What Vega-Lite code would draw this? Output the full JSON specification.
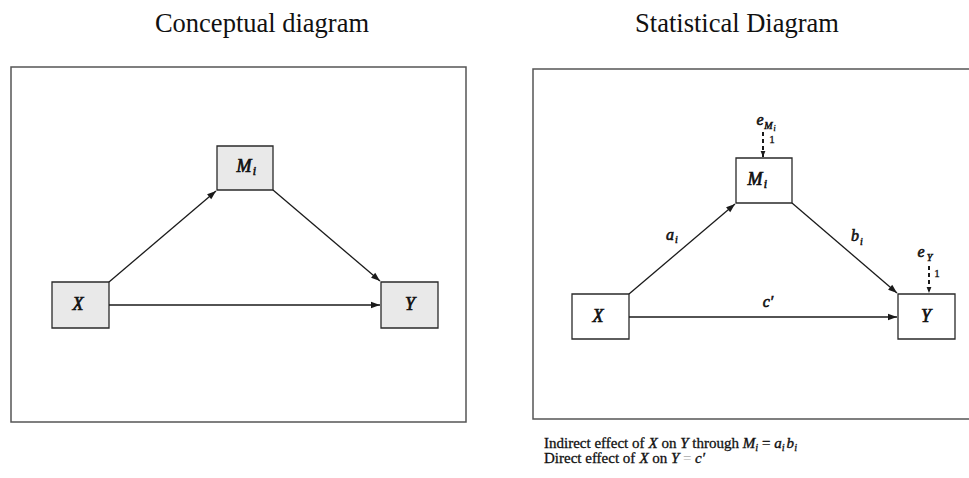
{
  "$schema": "https://vega.github.io/schema/vega-lite/v6.json",
  "width": 969,
  "height": 478,
  "autosize": {"type": "fit", "contains": "padding"},
  "padding": 0,
  "background": "white",
  "config": {"view": {"stroke": null}},
  "datasets": {
    "frames": [
      {"x1": 11, "x2": 466, "y1": 67, "y2": 422},
      {"x1": 533, "x2": 990, "y1": 69, "y2": 419}
    ],
    "boxes": [
      {"x1": 217, "x2": 273, "y1": 146, "y2": 190, "panel": "conceptual"},
      {"x1": 52, "x2": 109, "y1": 282, "y2": 328, "panel": "conceptual"},
      {"x1": 381, "x2": 438, "y1": 282, "y2": 328, "panel": "conceptual"},
      {"x1": 736, "x2": 792, "y1": 158, "y2": 203, "panel": "statistical"},
      {"x1": 572, "x2": 629, "y1": 294, "y2": 339, "panel": "statistical"},
      {"x1": 898, "x2": 955, "y1": 294, "y2": 339, "panel": "statistical"}
    ],
    "arrows": [
      {"x1": 109, "y1": 282, "x2": 216, "y2": 191, "dir": "ne", "line": "solid"},
      {"x1": 273, "y1": 190, "x2": 380, "y2": 281, "dir": "se", "line": "solid"},
      {"x1": 109, "y1": 305, "x2": 380, "y2": 305, "dir": "e", "line": "solid"},
      {"x1": 629, "y1": 294, "x2": 735, "y2": 204, "dir": "ne", "line": "solid"},
      {"x1": 792, "y1": 203, "x2": 897, "y2": 293, "dir": "se", "line": "solid"},
      {"x1": 629, "y1": 317, "x2": 897, "y2": 317, "dir": "e", "line": "solid"},
      {"x1": 763, "y1": 132, "x2": 763, "y2": 157, "dir": "s", "line": "dashed"},
      {"x1": 929, "y1": 266, "x2": 929, "y2": 293, "dir": "s", "line": "dashed"}
    ],
    "texts": [
      {"x": 262, "y": 24, "t": "Conceptual diagram", "s": "title"},
      {"x": 737, "y": 24, "t": "Statistical Diagram", "s": "title"},
      {"x": 78, "y": 305, "t": "X", "s": "var"},
      {"x": 410, "y": 305, "t": "Y", "s": "var"},
      {"x": 244, "y": 167, "t": "M", "s": "var"},
      {"x": 254.5, "y": 171, "t": "i", "s": "varsub"},
      {"x": 598, "y": 317, "t": "X", "s": "var"},
      {"x": 926, "y": 317, "t": "Y", "s": "var"},
      {"x": 755, "y": 180, "t": "M", "s": "var"},
      {"x": 765.5, "y": 184, "t": "i", "s": "varsub"},
      {"x": 670, "y": 235, "t": "a", "s": "lab"},
      {"x": 676.5, "y": 240, "t": "i", "s": "labsub"},
      {"x": 855, "y": 236, "t": "b", "s": "lab"},
      {"x": 861.5, "y": 242, "t": "i", "s": "labsub"},
      {"x": 768, "y": 302, "t": "c′", "s": "lab"},
      {"x": 760, "y": 120, "t": "e", "s": "lab"},
      {"x": 768.5, "y": 126, "t": "M", "s": "labsub"},
      {"x": 774.5, "y": 129, "t": "i", "s": "tiny"},
      {"x": 921, "y": 252, "t": "e", "s": "lab"},
      {"x": 929.5, "y": 258, "t": "Y", "s": "labsub"},
      {"x": 772, "y": 140, "t": "1", "s": "one"},
      {"x": 937, "y": 274, "t": "1", "s": "one"},
      {"x": 544, "y": 448, "t": "Indirect effect of", "s": "nr"},
      {"x": 648.5, "y": 448, "t": "X", "s": "ni"},
      {"x": 661.4, "y": 448, "t": "on", "s": "nr"},
      {"x": 680.2, "y": 448, "t": "Y", "s": "ni"},
      {"x": 692.3, "y": 448, "t": "through", "s": "nr"},
      {"x": 742.7, "y": 448, "t": "M", "s": "ni"},
      {"x": 755.3, "y": 451, "t": "i", "s": "ns"},
      {"x": 762, "y": 448, "t": "=", "s": "nr"},
      {"x": 774.2, "y": 448, "t": "a", "s": "ni"},
      {"x": 781.8, "y": 451, "t": "i", "s": "ns"},
      {"x": 786.5, "y": 448, "t": "b", "s": "ni"},
      {"x": 794.2, "y": 451, "t": "i", "s": "ns"},
      {"x": 544, "y": 463, "t": "Direct effect of", "s": "nr"},
      {"x": 639.4, "y": 463, "t": "X", "s": "ni"},
      {"x": 652.3, "y": 463, "t": "on", "s": "nr"},
      {"x": 671, "y": 463, "t": "Y", "s": "ni"},
      {"x": 683, "y": 463, "t": "=", "s": "ng"},
      {"x": 695, "y": 463, "t": "c′", "s": "ni"}
    ]
  },
  "layer": [
    {
      "data": {"name": "frames"},
      "mark": {"type": "rect", "fill": null, "stroke": "#555555", "strokeWidth": 1.5, "clip": true},
      "encoding": {
        "x": {"field": "x1", "type": "quantitative", "scale": {"domain": [0, 969], "nice": false, "zero": false}, "axis": null},
        "x2": {"field": "x2"},
        "y": {"field": "y1", "type": "quantitative", "scale": {"domain": [0, 478], "nice": false, "zero": false, "reverse": true}, "axis": null},
        "y2": {"field": "y2"}
      }
    },
    {
      "data": {"name": "boxes"},
      "mark": {"type": "rect", "stroke": "#2a2a2a", "strokeWidth": 1.3},
      "encoding": {
        "x": {"field": "x1", "type": "quantitative", "axis": null},
        "x2": {"field": "x2"},
        "y": {"field": "y1", "type": "quantitative", "axis": null},
        "y2": {"field": "y2"},
        "fill": {"field": "panel", "type": "nominal", "scale": {"domain": ["conceptual", "statistical"], "range": ["#e9e9e9", "#ffffff"]}, "legend": null}
      }
    },
    {
      "data": {"name": "arrows"},
      "transform": [{"filter": "datum.line === 'solid'"}],
      "mark": {"type": "rule", "stroke": "#1a1a1a", "strokeWidth": 1.3},
      "encoding": {
        "x": {"field": "x1", "type": "quantitative", "axis": null},
        "x2": {"field": "x2"},
        "y": {"field": "y1", "type": "quantitative", "axis": null},
        "y2": {"field": "y2"}
      }
    },
    {
      "data": {"name": "arrows"},
      "transform": [{"filter": "datum.line === 'dashed'"}],
      "mark": {"type": "rule", "stroke": "#1a1a1a", "strokeWidth": 2, "strokeDash": [4, 3]},
      "encoding": {
        "x": {"field": "x1", "type": "quantitative", "axis": null},
        "x2": {"field": "x2"},
        "y": {"field": "y1", "type": "quantitative", "axis": null},
        "y2": {"field": "y2"}
      }
    },
    {
      "data": {"name": "arrows"},
      "transform": [{"filter": "datum.dir === 'ne'"}],
      "mark": {"type": "point", "shape": "M0,0L-0.36,1L0.36,1Z", "filled": true, "color": "#1a1a1a", "opacity": 1, "size": 324, "angle": 49.6},
      "encoding": {
        "x": {"field": "x2", "type": "quantitative", "axis": null},
        "y": {"field": "y2", "type": "quantitative", "axis": null}
      }
    },
    {
      "data": {"name": "arrows"},
      "transform": [{"filter": "datum.dir === 'se'"}],
      "mark": {"type": "point", "shape": "M0,0L-0.36,1L0.36,1Z", "filled": true, "color": "#1a1a1a", "opacity": 1, "size": 324, "angle": 130.4},
      "encoding": {
        "x": {"field": "x2", "type": "quantitative", "axis": null},
        "y": {"field": "y2", "type": "quantitative", "axis": null}
      }
    },
    {
      "data": {"name": "arrows"},
      "transform": [{"filter": "datum.dir === 'e'"}],
      "mark": {"type": "point", "shape": "M0,0L-0.36,1L0.36,1Z", "filled": true, "color": "#1a1a1a", "opacity": 1, "size": 324, "angle": 90},
      "encoding": {
        "x": {"field": "x2", "type": "quantitative", "axis": null},
        "y": {"field": "y2", "type": "quantitative", "axis": null}
      }
    },
    {
      "data": {"name": "arrows"},
      "transform": [{"filter": "datum.dir === 's'"}],
      "mark": {"type": "point", "shape": "M0,0L-0.4,1L0.4,1Z", "filled": true, "color": "#1a1a1a", "opacity": 1, "size": 144, "angle": 180},
      "encoding": {
        "x": {"field": "x2", "type": "quantitative", "axis": null},
        "y": {"field": "y2", "type": "quantitative", "axis": null}
      }
    },
    {
      "data": {"name": "texts"},
      "transform": [{"filter": "datum.s === 'title'"}],
      "mark": {"type": "text", "font": "Liberation Serif", "fontSize": 26.5, "color": "#111111", "align": "center", "baseline": "middle"},
      "encoding": {
        "x": {"field": "x", "type": "quantitative", "axis": null},
        "y": {"field": "y", "type": "quantitative", "axis": null},
        "text": {"field": "t"}
      }
    },
    {
      "data": {"name": "texts"},
      "transform": [{"filter": "datum.s === 'var'"}],
      "mark": {"type": "text", "font": "Liberation Serif", "fontSize": 18, "fontStyle": "italic", "color": "#111111", "stroke": "#111111", "strokeWidth": 0.7, "align": "center", "baseline": "middle"},
      "encoding": {
        "x": {"field": "x", "type": "quantitative", "axis": null},
        "y": {"field": "y", "type": "quantitative", "axis": null},
        "text": {"field": "t"}
      }
    },
    {
      "data": {"name": "texts"},
      "transform": [{"filter": "datum.s === 'varsub'"}],
      "mark": {"type": "text", "font": "Liberation Serif", "fontSize": 12, "fontStyle": "italic", "color": "#111111", "stroke": "#111111", "strokeWidth": 0.6, "align": "center", "baseline": "middle"},
      "encoding": {
        "x": {"field": "x", "type": "quantitative", "axis": null},
        "y": {"field": "y", "type": "quantitative", "axis": null},
        "text": {"field": "t"}
      }
    },
    {
      "data": {"name": "texts"},
      "transform": [{"filter": "datum.s === 'lab'"}],
      "mark": {"type": "text", "font": "Liberation Serif", "fontSize": 16, "fontStyle": "italic", "color": "#111111", "stroke": "#111111", "strokeWidth": 0.6, "align": "center", "baseline": "middle"},
      "encoding": {
        "x": {"field": "x", "type": "quantitative", "axis": null},
        "y": {"field": "y", "type": "quantitative", "axis": null},
        "text": {"field": "t"}
      }
    },
    {
      "data": {"name": "texts"},
      "transform": [{"filter": "datum.s === 'labsub'"}],
      "mark": {"type": "text", "font": "Liberation Serif", "fontSize": 10, "fontStyle": "italic", "color": "#111111", "stroke": "#111111", "strokeWidth": 0.5, "align": "center", "baseline": "middle"},
      "encoding": {
        "x": {"field": "x", "type": "quantitative", "axis": null},
        "y": {"field": "y", "type": "quantitative", "axis": null},
        "text": {"field": "t"}
      }
    },
    {
      "data": {"name": "texts"},
      "transform": [{"filter": "datum.s === 'tiny'"}],
      "mark": {"type": "text", "font": "Liberation Serif", "fontSize": 7.5, "fontStyle": "italic", "color": "#111111", "stroke": "#111111", "strokeWidth": 0.4, "align": "center", "baseline": "middle"},
      "encoding": {
        "x": {"field": "x", "type": "quantitative", "axis": null},
        "y": {"field": "y", "type": "quantitative", "axis": null},
        "text": {"field": "t"}
      }
    },
    {
      "data": {"name": "texts"},
      "transform": [{"filter": "datum.s === 'one'"}],
      "mark": {"type": "text", "font": "Liberation Serif", "fontSize": 11, "color": "#111111", "stroke": "#111111", "strokeWidth": 0.3, "align": "center", "baseline": "middle"},
      "encoding": {
        "x": {"field": "x", "type": "quantitative", "axis": null},
        "y": {"field": "y", "type": "quantitative", "axis": null},
        "text": {"field": "t"}
      }
    },
    {
      "data": {"name": "texts"},
      "transform": [{"filter": "datum.s === 'nr'"}],
      "mark": {"type": "text", "font": "Liberation Serif", "fontSize": 15, "color": "#111111", "stroke": "#111111", "strokeWidth": 0.3, "align": "left", "baseline": "alphabetic"},
      "encoding": {
        "x": {"field": "x", "type": "quantitative", "axis": null},
        "y": {"field": "y", "type": "quantitative", "axis": null},
        "text": {"field": "t"}
      }
    },
    {
      "data": {"name": "texts"},
      "transform": [{"filter": "datum.s === 'ng'"}],
      "mark": {"type": "text", "font": "Liberation Serif", "fontSize": 15, "color": "#aaaaaa", "align": "left", "baseline": "alphabetic"},
      "encoding": {
        "x": {"field": "x", "type": "quantitative", "axis": null},
        "y": {"field": "y", "type": "quantitative", "axis": null},
        "text": {"field": "t"}
      }
    },
    {
      "data": {"name": "texts"},
      "transform": [{"filter": "datum.s === 'ni'"}],
      "mark": {"type": "text", "font": "Liberation Serif", "fontSize": 15, "fontStyle": "italic", "color": "#111111", "stroke": "#111111", "strokeWidth": 0.4, "align": "left", "baseline": "alphabetic"},
      "encoding": {
        "x": {"field": "x", "type": "quantitative", "axis": null},
        "y": {"field": "y", "type": "quantitative", "axis": null},
        "text": {"field": "t"}
      }
    },
    {
      "data": {"name": "texts"},
      "transform": [{"filter": "datum.s === 'ns'"}],
      "mark": {"type": "text", "font": "Liberation Serif", "fontSize": 10.5, "fontStyle": "italic", "color": "#111111", "stroke": "#111111", "strokeWidth": 0.3, "align": "left", "baseline": "alphabetic"},
      "encoding": {
        "x": {"field": "x", "type": "quantitative", "axis": null},
        "y": {"field": "y", "type": "quantitative", "axis": null},
        "text": {"field": "t"}
      }
    }
  ]
}
